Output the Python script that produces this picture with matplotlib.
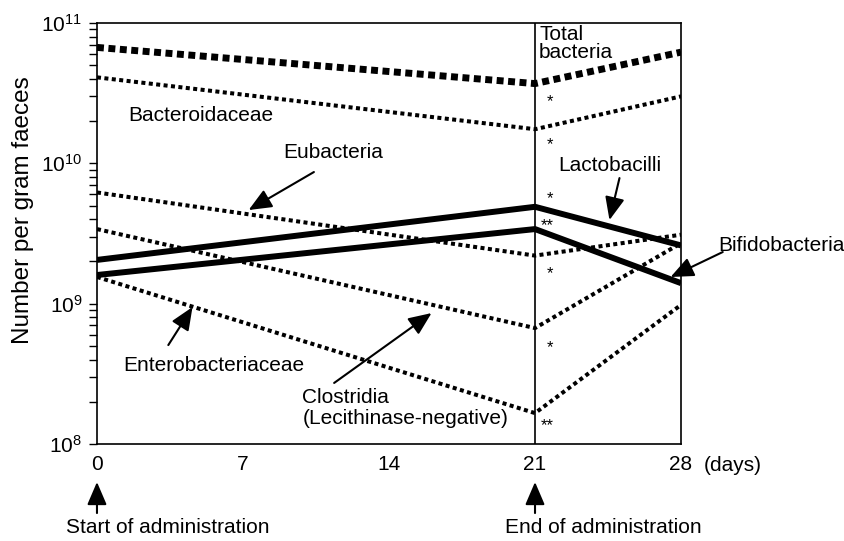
import matplotlib
matplotlib.use("Agg")
import matplotlib.pyplot as plt
from matplotlib.ticker import LogLocator, FixedLocator, NullFormatter

plt.rcParams['font.family'] = ['Liberation Sans', 'DejaVu Sans']
plt.rcParams['mathtext.fontset'] = 'custom'
plt.rcParams['mathtext.rm'] = 'Liberation Sans'

# dias de muestreo y conteos por gramo de heces
days = [0, 21, 28]
total = [6.7e10, 3.7e10, 6.2e10]
bacteroidaceae = [4.1e10, 1.75e10, 3.0e10]
eubacteria = [6.2e9, 2.2e9, 3.1e9]
lactobacilli = [2.05e9, 4.9e9, 2.6e9]
bifidobacteria = [1.6e9, 3.4e9, 1.4e9]
clostridia = [3.4e9, 6.7e8, 2.7e9]
enterobacteriaceae = [1.55e9, 1.66e8, 9.8e8]

xticks = [0, 7, 14, 21, 28]
# asteriscos de significancia en el dia 21
star_y = [2.73e10, 1.35e10, 5.6e9, 3.6e9, 1.65e9, 4.9e8, 1.35e8]
star_txt = ['*', '*', '*', '**', '*', '*', '**']

fig = plt.figure(figsize=(8.44, 5.41), dpi=100)
ax = fig.add_axes([0.1149, 0.1793, 0.6920, 0.7782])

ax.set_yscale('log')
ax.set_xlim(0, 28)
ax.set_ylim(1e8, 1e11)

k = dict(color='black', solid_capstyle='butt', dash_capstyle='butt')
ax.plot(days, total, lw=5.0, linestyle=(0, (1, 0.65)), **k)
dot = (0, (1, 0.85))
ax.plot(days, bacteroidaceae, lw=2.9, linestyle=dot, **k)
ax.plot(days, eubacteria, lw=2.9, linestyle=dot, **k)
ax.plot(days, clostridia, lw=2.9, linestyle=dot, **k)
ax.plot(days, enterobacteriaceae, lw=2.9, linestyle=dot, **k)
ax.plot(days, lactobacilli, lw=4.3, **k)
ax.plot(days, bifidobacteria, lw=4.3, **k)

# linea vertical al final de la administracion
ax.axvline(21, color='black', lw=1.2)

for sy, st in zip(star_y, star_txt):
    ax.text(21.7 if st == '*' else 21.6, sy, st, fontsize=12, ha='center', va='center')

fs = 15
ax.text(21.2, 10**10.985, 'Total\nbacteria', fontsize=fs, ha='left', va='top', linespacing=0.95)
ax.text(4.96, 10**10.344, 'Bacteroidaceae', fontsize=fs, ha='center', va='center')
ax.text(11.32, 10**10.074, 'Eubacteria', fontsize=fs, ha='center', va='center')
ax.text(24.57, 10**9.981, 'Lactobacilli', fontsize=fs, ha='center', va='center')
ax.text(32.8, 10**9.418, 'Bifidobacteria', fontsize=fs, ha='center', va='center')
ax.text(5.59, 10**8.556, 'Enterobacteriaceae', fontsize=fs, ha='center', va='center')
ax.text(9.85, 10**8.40, 'Clostridia\n(Lecithinase-negative)', fontsize=fs,
        ha='left', va='top', linespacing=1.15)

ap = dict(arrowstyle='-|>,head_length=0.7,head_width=0.3', mutation_scale=20,
          color='black', lw=1.5, shrinkA=0, shrinkB=0)
flechas = [
    ((10.4, 10**9.938), (7.27, 10**9.667)),
    ((25.05, 10**9.895), (24.57, 10**9.596)),
    ((30.0, 10**9.368), (27.5, 10**9.190)),
    ((3.42, 10**8.705), (4.58, 10**8.976)),
    ((11.37, 10**8.435), (16.04, 10**8.933)),
    ((0, 10**7.508), (0, 10**7.729)),
    ((21, 10**7.508), (21, 10**7.729)),
]
for tail, tip in flechas:
    ax.annotate('', xy=tip, xytext=tail, arrowprops=ap, annotation_clip=False)

ax.text(3.37, 10**7.405, 'Start of administration', fontsize=fs, ha='center', va='center')
ax.text(24.28, 10**7.405, 'End of administration', fontsize=fs, ha='center', va='center')
ax.text(30.5, 10**7.85, '(days)', fontsize=fs, ha='center', va='center')

ax.set_xticks(xticks)
ax.tick_params(axis='x', length=0, pad=8, labelsize=fs)
ax.yaxis.set_major_locator(FixedLocator([1e8, 1e9, 1e10, 1e11]))
ax.yaxis.set_minor_locator(LogLocator(base=10, subs=range(2, 10)))
ax.yaxis.set_minor_formatter(NullFormatter())
ax.tick_params(axis='y', which='both', direction='out', length=5.5, width=1, labelsize=fs, pad=5)
ax.set_ylabel('Number per gram faeces', fontsize=17.5)
ax.yaxis.set_label_coords(-0.108, 0.556)

for s in ax.spines.values():
    s.set_linewidth(1.2)

plt.savefig('out.png', dpi=100)
